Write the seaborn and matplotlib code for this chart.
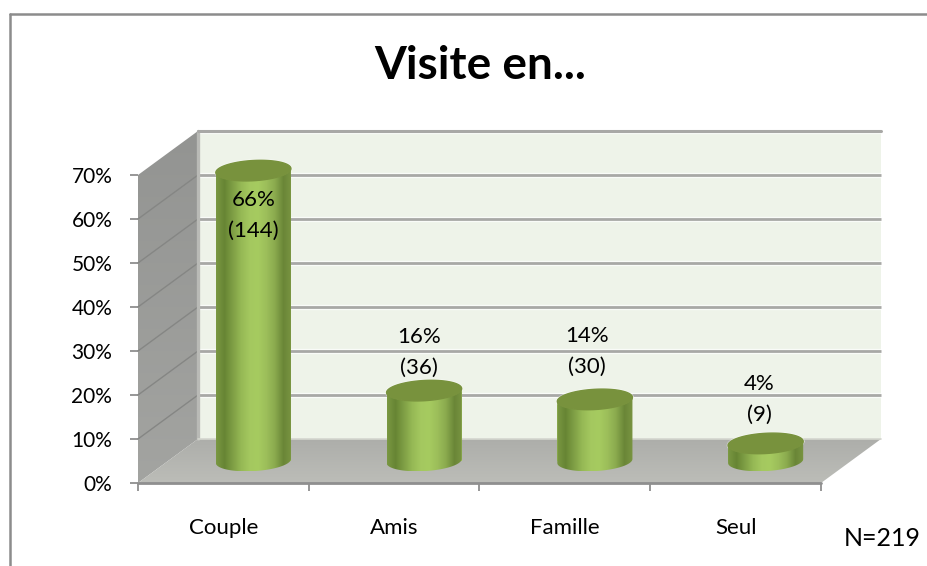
import numpy as np
import matplotlib
matplotlib.use("Agg")
import matplotlib.pyplot as plt
from matplotlib.colors import LinearSegmentedColormap
from matplotlib.patches import Polygon
from matplotlib.lines import Line2D
import seaborn as sns

categories = ["Couple", "Amis", "Famille", "Seul"]
percent = [66, 16, 14, 4]
counts = [144, 36, 30, 9]
y_ticks = [0, 10, 20, 30, 40, 50, 60, 70]
title = "Visite en..."
note = "N=219"

# layout
W, H = 928, 566
L, R, B, T = 138, 821, 483, 175
DX = 60 / ((R - L) / 4)        # depth of the box, in category units
DY = 10                        # depth of the box, in percent units
BAR_W = 0.44
RY = 2.3                       # half height of the cylinder ellipse (percent units)
TILT = 0.45
LABEL_DX = [0, -5, -8, -6]     # px offset from the cylinder axis
LABEL_DY = [-45, 38, 48, 44]   # px offset above the cylinder top

sns.set_style("white")
plt.rcParams["font.family"] = ["Lato", "DejaVu Sans"]
fig = plt.figure(figsize=(W / 100, H / 100), dpi=100, facecolor="white")
ax = fig.add_axes([L / W, (H - B) / H, (R - L) / W, (B - T) / H])
ax.patch.set_alpha(0)

XMIN, XMAX = -0.5, len(categories) - 0.5


def gradient_poly(pts, colors, horizontal, z):
    pts = np.asarray(pts)
    poly = Polygon(pts, closed=True, transform=ax.transData, fc="none", ec="none")
    cmap = LinearSegmentedColormap.from_list("g", colors)
    g = np.linspace(0, 1, 256)
    arr = g[None, :] if horizontal else g[:, None]
    im = ax.imshow(arr, cmap=cmap, aspect="auto", origin="lower", zorder=z,
                   extent=(pts[:, 0].min(), pts[:, 0].max(), pts[:, 1].min(), pts[:, 1].max()))
    im.set_clip_box(fig.bbox)
    im.set_clip_path(poly)
    return im


def ellipse(cx, cy, rx):
    t = np.linspace(0, 2 * np.pi, 120)
    return np.c_[cx + rx * np.cos(t), cy + RY * np.sin(t) + TILT * np.cos(t)]


# cylinders (drawn first so that the bar container is the only one on the axes)
sns.barplot(x=categories, y=percent, width=BAR_W, color="#a4c95f", ax=ax,
            saturation=1, zorder=3, errorbar=None, linewidth=0)
bars = list(ax.containers[0])

# box: back wall, side wall, floor
top = y_ticks[-1]
ax.add_patch(Polygon([(XMIN + DX, DY), (XMAX + DX, DY), (XMAX + DX, top + DY), (XMIN + DX, top + DY)],
                     fc="#eef3e9", ec="none", zorder=0.5, clip_on=False))
gradient_poly([(XMIN, 0), (XMIN, top), (XMIN + DX, top + DY), (XMIN + DX, DY)],
              ["#a3a4a1", "#939492"], False, 0.6)
gradient_poly([(XMIN, 0), (XMAX, 0), (XMAX + DX, DY), (XMIN + DX, DY)],
              ["#bcbdb8", "#adaeaa"], False, 0.7)
for v in y_ticks[1:]:
    ax.plot([XMIN + DX, XMAX + DX], [v + DY, v + DY], color="white", lw=3.8, alpha=0.7,
            solid_capstyle="butt", clip_on=False, zorder=0.8)
    ax.plot([XMIN + DX, XMAX + DX], [v + DY, v + DY], color="#a8a8a6", lw=2.0,
            solid_capstyle="butt", clip_on=False, zorder=0.9)
for v in y_ticks[1:-1]:
    ax.plot([XMIN, XMIN + DX], [v, v + DY], color="#858684", lw=1.0, clip_on=False, zorder=0.9)
ax.plot([XMIN + DX, XMIN + DX], [DY, top + DY], color="#b9bab6", lw=2.4, clip_on=False, zorder=0.95)
ax.plot([XMIN + DX, XMAX + DX], [top + DY, top + DY], color="#a8a8a6", lw=2.2,
        clip_on=False, zorder=0.95)
ax.plot([XMIN + DX, XMAX + DX], [DY, DY], color="#d4d6cf", lw=1.2, clip_on=False, zorder=0.95)
ax.plot([XMIN, XMAX], [0, 0], color="#8f8f8f", lw=2.0, clip_on=False, zorder=1)

BODY = ["#7a9842", "#678534", "#7f9f45", "#96b955", "#a4c85f", "#a6cb60",
        "#9cbe5a", "#8aaa4e", "#6a8637", "#7a9542"]
for i, bar in enumerate(bars):
    cx = i + DX / 2
    rx = BAR_W / 2
    y0, y1 = DY / 2, bar.get_height() + DY / 2
    bar.set_x(cx - rx)
    bar.set_y(y0)
    t = np.linspace(np.pi, 2 * np.pi, 60)
    lower = np.c_[cx + rx * np.cos(t), y0 + RY * np.sin(t) + TILT * np.cos(t)]
    upper = np.c_[cx + rx * np.cos(t[::-1]), y1 + RY * np.sin(t[::-1]) + TILT * np.cos(t[::-1])]
    gradient_poly(np.r_[lower, upper], BODY, True, 3.1)
    lid = ellipse(cx, y1, rx)
    ax.plot(*lid.T, color="white", lw=2.0, alpha=0.45, zorder=3.05, clip_on=False)
    ax.fill(*lid.T, color="#78923d", zorder=3.2, clip_on=False)
    ax.annotate(f"{percent[i]}%\n({counts[i]})", (cx, y1),
                xytext=(LABEL_DX[i] * 0.72, LABEL_DY[i] * 0.72), textcoords="offset points",
                ha="center", va="center", fontsize=16, color="black", linespacing=1.68,
                zorder=5, annotation_clip=False)

# axes
ax.set_xlim(XMIN, XMAX)
ax.set_ylim(y_ticks[0], y_ticks[-1])
ax.set_xticks(range(len(categories)))
ax.set_xticklabels(categories, fontsize=16, color="black")
ax.set_xticks(np.arange(XMIN, XMAX + 0.5), minor=True)
ax.tick_params(axis="x", which="major", length=0, pad=25.5)
ax.tick_params(axis="x", which="minor", length=6, width=1.3, color="#8f8f8f", bottom=True)
ax.set_yticks(y_ticks)
ax.set_yticklabels([f"{v}%" for v in y_ticks], fontsize=15, color="black")
ax.tick_params(axis="y", length=5.5, width=1.3, color="#8f8f8f", pad=13, left=True)
ax.set_xlabel("")
ax.set_ylabel("")
for s in ax.spines.values():
    s.set_visible(False)

# title, note and chart frame
fig.text(480 / W, 1 - 66 / H, title, fontsize=33, fontweight="bold", color="black",
         ha="center", va="center")
fig.text(882 / W, 1 - 539 / H, note, fontsize=18, color="black", ha="center", va="center")
for xs, ys in (([10, 10], [14, H]), ([10, W], [14, 14])):
    fig.add_artist(Line2D(np.array(xs) / W, 1 - np.array(ys) / H, color="#8c8c8c", lw=1.8))

fig.savefig("out.png", dpi=100)
